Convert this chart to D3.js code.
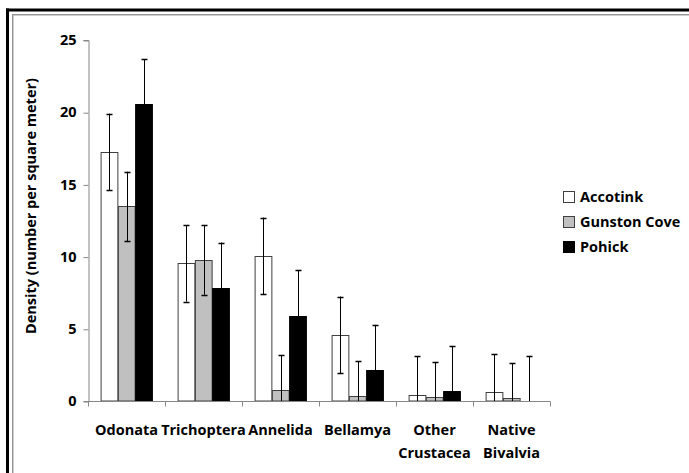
<!DOCTYPE html>
<html>
<head>
<meta charset="utf-8">
<script src="https://cdn.jsdelivr.net/npm/d3@7"></script>
<style>
  html, body { margin: 0; padding: 0; background: #fff; overflow: hidden; }
  svg { display: block; }
  svg text { font-family: "Open Sans", sans-serif; font-weight: bold; fill: #000; }
</style>
</head>
<body>
<div id="chart"></div>
<script>
// chart data
var categories = [["Odonata"], ["Trichoptera"], ["Annelida"], ["Bellamya"], ["Other", "Crustacea"], ["Native", "Bivalvia"]];
var series = ["Accotink", "Gunston Cove", "Pohick"];
var accotink = [17.25, 9.53, 10.05, 4.58, 0.44, 0.6];
var gunston = [13.48, 9.76, 0.77, 0.36, 0.3, 0.2];
var pohick = [20.55, 7.85, 5.92, 2.15, 0.69, 0];
var errors = [2.65, 2.4, 3.12];
var yTicks = [0, 5, 10, 15, 20, 25];
var colors = ["#ffffff", "#c0c0c0", "#000000"];

var width = 689, height = 473;
var margin = {left: 88, top: 40, right: 139, bottom: 72};

var svg = d3.select("#chart").append("svg")
    .attr("width", width)
    .attr("height", height);

// frame: only top and left edges are inside the picture
var frame = svg.append("g");
frame.append("line").attr("x1", 6).attr("x2", width).attr("y1", 10).attr("y2", 10)
    .attr("stroke", "#000").attr("stroke-width", 3);
frame.append("line").attr("x1", 7.5).attr("x2", 7.5).attr("y1", 8.5).attr("y2", height)
    .attr("stroke", "#000").attr("stroke-width", 3);
frame.append("line").attr("x1", 12).attr("x2", width).attr("y1", 14.75).attr("y2", 14.75)
    .attr("stroke", "#999").attr("stroke-width", 1.5);
frame.append("line").attr("x1", 12.75).attr("x2", 12.75).attr("y1", 14).attr("y2", height)
    .attr("stroke", "#999").attr("stroke-width", 1.5);

var x = d3.scaleBand()
    .domain(d3.range(categories.length))
    .range([margin.left, width - margin.right])
    .paddingInner(0).paddingOuter(0);

var y = d3.scaleLinear()
    .domain([0, 25])
    .range([height - margin.bottom, margin.top]);

var inner = d3.scaleBand()
    .domain(d3.range(series.length))
    .range([0, x.bandwidth()])
    .paddingOuter(0.73).paddingInner(0);

var values = [accotink, gunston, pohick];

// clip so that lower error bars stop at the axis
svg.append("clipPath").attr("id", "plot")
    .append("rect")
    .attr("x", margin.left).attr("y", margin.top - 20)
    .attr("width", width - margin.left - margin.right)
    .attr("height", y(0) - margin.top + 20);

var groups = svg.selectAll("g.series")
    .data(values)
    .enter().append("g")
    .attr("class", "series");

groups.each(function(vals, si) {
    var g = d3.select(this);
    g.selectAll("rect")
        .data(vals)
        .enter().append("rect")
        .attr("x", function(d, i) { return x(i) + inner(si) + 0.5; })
        .attr("y", function(d) { return Math.round(y(d)) + 0.5; })
        .attr("width", inner.bandwidth() - 0.5)
        .attr("height", function(d) { return Math.max(0, y(0) - Math.round(y(d)) - 0.5); })
        .attr("fill", colors[si])
        .attr("stroke", si == 2 ? "#000" : "#404040")
        .attr("stroke-width", 1);
});

// error bars
groups.each(function(vals, si) {
    var g = d3.select(this).append("g").attr("clip-path", "url(#plot)");
    var e = errors[si];
    var cx = function(i) { return Math.round(x(i) + inner(si) + inner.bandwidth() / 2) + 0.5; };
    vals.forEach(function(d, i) {
        var c = cx(i);
        g.append("line")
            .attr("x1", c).attr("x2", c)
            .attr("y1", y(d + e)).attr("y2", y(d - e))
            .attr("stroke", "#000").attr("stroke-width", 1);
        [d + e, d - e].forEach(function(v) {
            if (v < 0) return;
            g.append("line")
                .attr("x1", c - 3).attr("x2", c + 3)
                .attr("y1", Math.round(y(v)) + 0.5).attr("y2", Math.round(y(v)) + 0.5)
                .attr("stroke", "#000").attr("stroke-width", 1.5);
        });
    });
});

// y axis
var yAxis = svg.append("g")
    .attr("transform", "translate(" + (margin.left + 0.5) + ",0)")
    .call(d3.axisLeft(y).tickValues(yTicks).tickSize(5).tickPadding(7));
yAxis.select(".domain").attr("stroke", "#868686");
yAxis.selectAll(".tick line").attr("stroke", "#868686")
    .attr("transform", "translate(0,0.5)");
yAxis.selectAll(".tick text").attr("font-size", 14.5)
    .style("font-family", "'Open Sans', sans-serif").style("font-weight", "bold");

// x axis
var xAxis = svg.append("g")
    .attr("transform", "translate(0," + (y(0) + 0.5) + ")");
xAxis.append("line")
    .attr("x1", margin.left).attr("x2", width - margin.right)
    .attr("stroke", "#868686");
xAxis.selectAll("line.tick")
    .data(d3.range(categories.length + 1))
    .enter().append("line")
    .attr("class", "tick")
    .attr("x1", function(i) { return Math.round(margin.left + i * x.bandwidth()) + 0.5; })
    .attr("x2", function(i) { return Math.round(margin.left + i * x.bandwidth()) + 0.5; })
    .attr("y1", 0).attr("y2", 5)
    .attr("stroke", "#868686");

var labels = svg.selectAll("text.cat")
    .data(categories)
    .enter().append("text")
    .attr("class", "cat")
    .attr("text-anchor", "middle")
    .attr("font-size", 14.5);
labels.selectAll("tspan")
    .data(function(d, i) { return d.map(function(s) { return {s: s, i: i}; }); })
    .enter().append("tspan")
    .attr("x", function(d) { return x(d.i) + x.bandwidth() / 2; })
    .attr("y", function(d, j) { return 435 + j * 23; })
    .text(function(d) { return d.s; });

// y axis title
svg.append("text")
    .attr("transform", "translate(36,206) rotate(-90)")
    .attr("text-anchor", "middle")
    .attr("font-size", 14.5)
    .text("Density (number per square meter)");

// legend
var legend = svg.selectAll("g.legend")
    .data(series)
    .enter().append("g")
    .attr("class", "legend")
    .attr("transform", function(d, i) { return "translate(563," + (191 + i * 25) + ")"; });
legend.append("rect")
    .attr("x", 0.5).attr("y", 0.5)
    .attr("width", 11).attr("height", 11)
    .attr("fill", function(d, i) { return colors[i]; })
    .attr("stroke", function(d, i) { return i == 2 ? "#000" : "#404040"; });
legend.append("text")
    .attr("x", 17).attr("y", 11)
    .attr("font-size", 14.5)
    .text(function(d) { return d; });
</script>
</body>
</html>
